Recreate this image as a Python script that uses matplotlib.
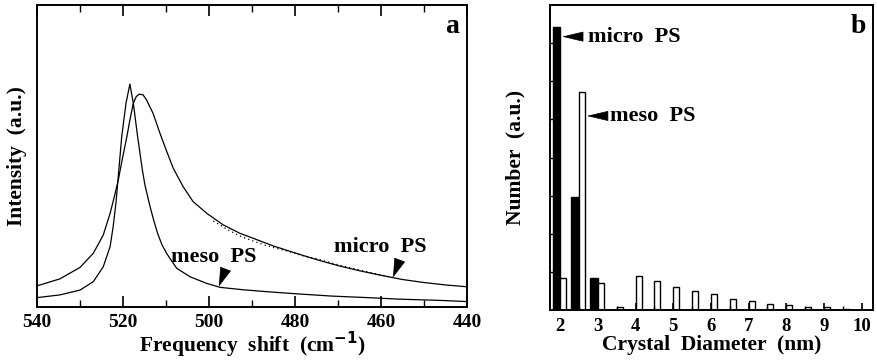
import matplotlib
matplotlib.use("Agg")
import matplotlib.pyplot as plt
from matplotlib.ticker import MultipleLocator

plt.rcParams["font.family"] = ["Liberation Serif", "DejaVu Serif"]
plt.rcParams["font.weight"] = "bold"

# panel a: Raman spectra (intensity normalised)
meso_x = [540, 534.7, 530.0, 526.9, 524.6, 523.0, 522.3, 521.6, 520.3, 519.3, 518.4, 517.6,
          516.6, 515.5, 514.9, 513.7, 512.8, 512.0, 511.0, 509.8, 507.5, 504.4, 500.5, 497.4,
          492, 486.8, 480, 471.3, 463, 455.8, 446.5, 440]
meso_y = [0.031, 0.040, 0.056, 0.084, 0.133, 0.200, 0.265, 0.35, 0.564, 0.675, 0.738, 0.675,
          0.564, 0.454, 0.404, 0.332, 0.284, 0.246, 0.208, 0.176, 0.128, 0.100, 0.078, 0.065,
          0.057, 0.051, 0.044, 0.036, 0.031, 0.026, 0.022, 0.018]

micro_x = [540, 534.7, 530.0, 526.9, 524.6, 523.0, 521.9, 521.1, 520.2, 519.1, 518.4, 517.6,
           516.9, 516.2, 515.3, 514.5, 513.0, 511.4, 509.8, 508.3, 506.0, 503.7, 500.5, 496.7,
           492.8, 490, 485, 480, 475, 470, 465, 460, 455, 450, 445, 440]
micro_y = [0.070, 0.093, 0.131, 0.178, 0.238, 0.310, 0.372, 0.42, 0.487, 0.564, 0.619, 0.675,
           0.697, 0.705, 0.702, 0.685, 0.641, 0.575, 0.514, 0.459, 0.398, 0.349, 0.310, 0.272,
           0.244, 0.229, 0.202, 0.179, 0.157, 0.137, 0.120, 0.105, 0.091, 0.081, 0.073, 0.067]

# measured points of micro PS where they leave the fit
micro_meas_x = [499, 496, 493, 490, 487, 484, 481, 478, 475, 472, 469, 466, 463, 460, 457]
micro_meas_y = [0.285, 0.259, 0.236, 0.220, 0.205, 0.193, 0.182, 0.169, 0.160, 0.148, 0.136,
                0.126, 0.116, 0.106, 0.097]

# panel b: crystal size distribution
bins = [2.0, 2.5, 3.0, 3.5, 4.0, 4.5, 5.0, 5.5, 6.0, 6.5, 7.0, 7.5, 8.0, 8.5, 9.0, 9.5]
micro_counts = [7.43, 2.97, 0.83, 0, 0, 0, 0, 0, 0, 0, 0, 0, 0, 0, 0, 0]
meso_counts = [0.85, 5.73, 0.72, 0.09, 0.88, 0.75, 0.61, 0.50, 0.42, 0.29, 0.24, 0.17,
               0.12, 0.09, 0.07, 0.03]

W, H = 877, 364
fig = plt.figure(figsize=(W / 100, H / 100), dpi=100)
ax_a = fig.add_axes([37 / W, 1 - 307 / H, 430 / W, 302 / H])
ax_b = fig.add_axes([550 / W, 1 - 310 / H, 323 / W, 305 / H])

for ax in (ax_a, ax_b):
    for s in ax.spines.values():
        s.set_linewidth(1.4)

# ---- panel a
ax_a.plot(meso_x, meso_y, color="k", lw=0.9)
ax_a.plot(micro_x, micro_y, color="k", lw=0.9)
ax_a.plot(micro_meas_x, micro_meas_y, color="k", lw=0.9, ls=(0, (1, 2.5)))
ax_a.set_xlim(540, 440)
ax_a.set_ylim(0, 1)
ax_a.xaxis.set_major_locator(MultipleLocator(20))
ax_a.xaxis.set_minor_locator(MultipleLocator(10))
ax_a.tick_params(axis="x", which="major", direction="in", length=8, width=1.2,
                 top=True, labelsize=14, pad=5)
ax_a.tick_params(axis="x", which="minor", direction="in", length=5, width=1.0, top=True)
ax_a.set_yticks([])
ax_a.set_xlabel("Frequency  shift  (cm$^{\\mathbf{-1}}$)", fontsize=15.5, fontweight="bold",
                labelpad=-1)
ax_a.set_ylabel("Intensity  (a.u.)", fontsize=15.5, fontweight="bold", labelpad=7)
ax_a.text(0.965, 0.93, "a", transform=ax_a.transAxes, fontsize=20, fontweight="bold",
          ha="center", va="center")

arrow = dict(arrowstyle="-|>,head_length=1.25,head_width=0.38", fc="k", ec="k", lw=0.5,
             shrinkA=0, shrinkB=0, mutation_scale=10)
ax_a.annotate("", xy=(497.7, 0.068), xytext=(496.2, 0.124), arrowprops=arrow)
ax_a.annotate("", xy=(457.2, 0.098), xytext=(455.7, 0.154), arrowprops=arrow)
ax_a.text(508.8, 0.166, "meso  PS", fontsize=16, fontweight="bold", ha="left", va="center")
ax_a.text(471.0, 0.199, "micro  PS", fontsize=16, fontweight="bold", ha="left", va="center")

# ---- panel b
ax_b.bar([b - 0.2 for b in bins], micro_counts, width=0.2, align="edge",
         color="k", edgecolor="k", lw=1.0)
ax_b.bar(bins, meso_counts, width=0.16, align="edge", color="white", edgecolor="k", lw=1.0)
ax_b.set_xlim(1.73, 10.3)
ax_b.set_ylim(0, 8)
ax_b.xaxis.set_major_locator(MultipleLocator(1))
ax_b.xaxis.set_minor_locator(MultipleLocator(0.5))
ax_b.tick_params(axis="x", which="major", direction="in", length=5, width=1.2,
                 labelsize=13.5, pad=6)
ax_b.tick_params(axis="x", which="minor", direction="in", length=3, width=1.0)
ax_b.set_yticks(range(1, 8))
ax_b.tick_params(axis="y", direction="in", length=4, width=1.0, labelleft=False)
ax_b.set_xlabel("Crystal  Diameter  (nm)", fontsize=15.5, fontweight="bold", labelpad=0)
ax_b.set_ylabel("Number  (a.u.)", fontsize=15.5, fontweight="bold", labelpad=18)
ax_b.text(0.955, 0.93, "b", transform=ax_b.transAxes, fontsize=20, fontweight="bold",
          ha="center", va="center")

arrow_b = dict(arrowstyle="-|>,head_length=1.4,head_width=0.33", fc="k", ec="k", lw=0.5,
               shrinkA=0, shrinkB=0, mutation_scale=10)
ax_b.annotate("", xy=(2.05, 7.17), xytext=(2.58, 7.17), arrowprops=arrow_b)
ax_b.annotate("", xy=(2.71, 5.09), xytext=(3.24, 5.09), arrowprops=arrow_b)
ax_b.text(2.74, 7.17, "micro  PS", fontsize=16, fontweight="bold", ha="left", va="center")
ax_b.text(3.33, 5.09, "meso  PS", fontsize=16, fontweight="bold", ha="left", va="center")

fig.savefig("out.png", dpi=100)
